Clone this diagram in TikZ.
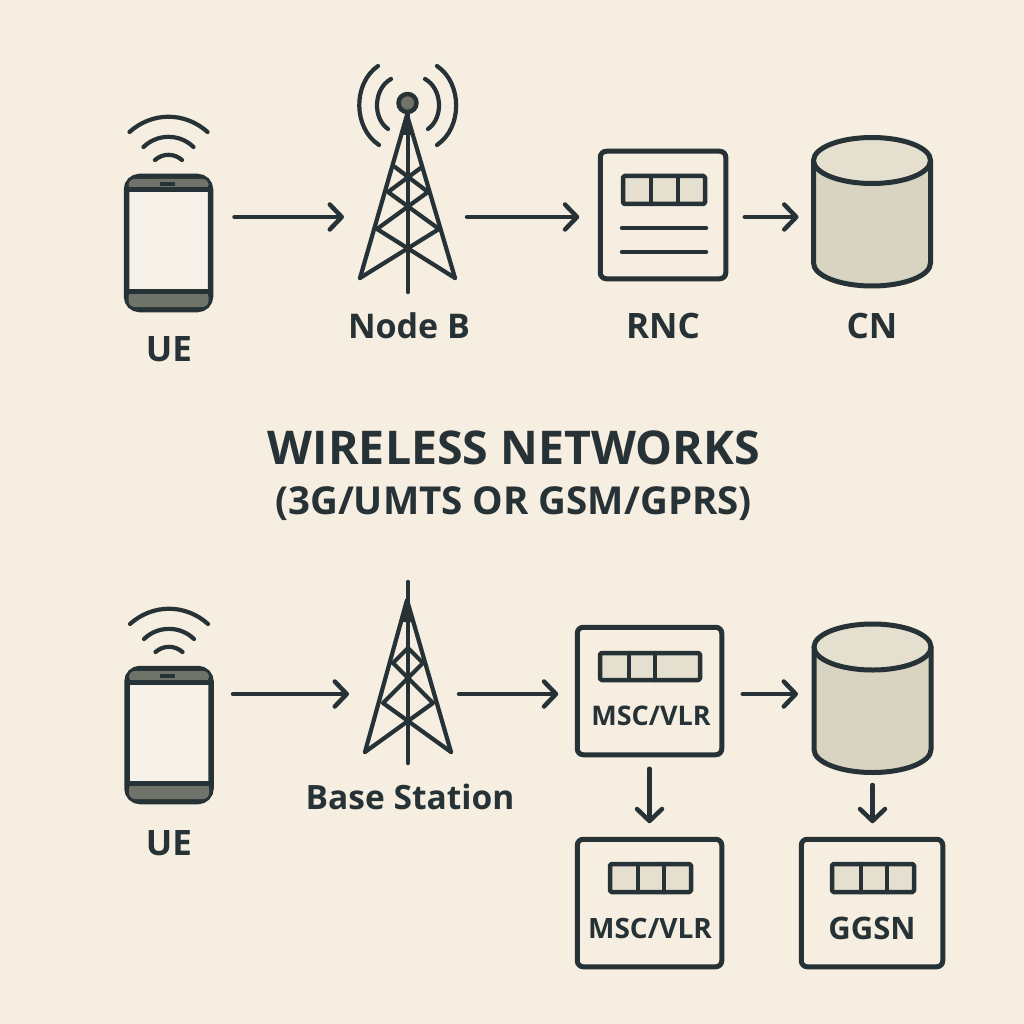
\documentclass[tikz,border=0pt]{standalone}
\usepackage{fontspec}
\setmainfont{Open Sans}[UprightFont=* Bold]
\usetikzlibrary{arrows.meta}
\definecolor{paper}{HTML}{F5EEE1}
\definecolor{ink}{HTML}{263235}
\definecolor{screen}{HTML}{F7F2E9}
\definecolor{band}{HTML}{70736A}
\definecolor{cellfill}{HTML}{E5DFCF}
\definecolor{bodyfill}{HTML}{D9D4C2}
\tikzset{line/.style={draw=ink, line width=4.5pt, line cap=round, -{Straight Barb[length=12pt,width=25pt,line width=4.5pt,round]}}}
\tikzset{strut/.style={draw=ink, line width=4.2pt, line cap=round, line join=round}}
\tikzset{box/.style={draw=ink, line width=5pt, rounded corners=6pt, inner sep=0pt, outer sep=0pt, minimum height=127.5pt}}
\tikzset{phone/.style={draw=ink, fill=screen, line width=5.5pt, rounded corners=13pt, inner sep=0pt, outer sep=0pt, minimum width=84pt, minimum height=133pt}}
\tikzset{mast/.style={inner sep=0pt, outer sep=0pt}}
\tikzset{lab/.style={text=ink, inner sep=0pt, font=\fontsize{35}{35}\selectfont}}
\tikzset{lab box/.style={text=ink, inner sep=0pt, font=\fontsize{27}{27}\selectfont}}
\tikzset{phonebits/.pic={
  \fill[band, rounded corners=6pt] (-40,-53) -- (-40,-64) -- (40,-64) -- (40,-53) -- cycle;
  \fill[band, rounded corners=6pt] (-40,48) -- (-40,64) -- (40,64) -- (40,48) -- cycle;
  \draw[strut, line width=5pt, line cap=butt] (-41,-53) -- (41,-53);
  \draw[strut, line width=5pt, line cap=butt] (-41,48) -- (41,48);
  \draw[strut, line width=3.5pt, line cap=butt] (-9,-59) -- (6,-59);
  \draw[strut] (-39,-111) to[bend left=42] (39,-111);
  \draw[strut] (-25,-96) to[bend left=44] (25,-96);
  \draw[strut] (-13.5,-83) to[bend left=41] (13.5,-83);
}}
\tikzset{drum/.pic={
  \draw[strut, line width=5pt, fill=bodyfill] (-58.5,-51) -- (-58.5,51.5) arc[start angle=180, end angle=360, x radius=58.5pt, y radius=23pt] -- (58.5,-51) -- cycle;
  \draw[strut, line width=5pt, fill=cellfill] (0,-51) ellipse [x radius=58.5pt, y radius=23pt];
}}
% box with three cells
\newcommand{\cellstrip}[6]{
  \fill[cellfill] (#1,#5) rectangle (#4,#6);
  \draw[strut, line width=4.5pt, rounded corners=1.5pt] (#1,#5) rectangle (#4,#6);
  \draw[strut, line width=4.5pt] (#2,#5) -- (#2,#6) (#3,#5) -- (#3,#6);
}
\begin{document}
\begin{tikzpicture}[x=1pt,y=-1pt]
\fill[paper] (0,0) rectangle (1024,1024);

% upper row
\node [phone] (ueA) at (168.5,243) {};
\pic at (ueA) {phonebits};
\node [mast, minimum width=95pt, minimum height=100pt] (nodeB) at (407.5,217) {};
\draw[strut, line width=4.5pt] (408,113) -- (408,292);
\draw[strut] (360,278) -- (407,115) -- (455,278);
\draw[strut] (395,167) -- (428,192) -- (377,229) -- (455,278);
\draw[strut] (422,167) -- (388,192) -- (439,229) -- (360,278);
\fill[ink] (407.5,112) -- (402,135) -- (413,135) -- cycle;
\draw[strut, fill=band, line width=4.5pt] (407.5,103) circle (9);
\draw[strut] (378,66) to[bend right=56] (379,145);
\draw[strut] (391,79) to[bend right=58] (388,129);
\draw[strut] (437,66) to[bend left=56] (437,145);
\draw[strut] (425,79) to[bend left=58] (428,129);
\node [box, minimum width=125.5pt] (rnc) at (663,215) {};
\cellstrip{623}{651}{678}{705}{176}{204}
\draw[strut, line width=4.5pt] (622,228) -- (706,228) (622,252) -- (706,252);
\node [mast, minimum width=117pt, minimum height=148pt] (cnA) at (872,211.5) {};
\pic at (cnA) {drum};

\node [lab] (ueAlab) at (169,349) {UE};
\node [lab, font=\fontsize{34}{34}\selectfont] (nodeBlab) at (409,326) {Node B};
\node [lab] (rnclab) at (663,326) {RNC};
\node [lab] (cnAlab) at (872,326) {CN};

\draw[line, shorten <=24pt, shorten >=16pt] ([yshift=26pt]ueA.east) -- (nodeB.west);
\draw[line, shorten <=12pt, shorten >=21pt] (nodeB.east) -- (nodeB.east -| rnc.west);
\draw[line, shorten <=19pt, shorten >=15pt] ([yshift=-2pt]rnc.east) -- ([yshift=-2pt]rnc.east -| cnA.west);

% title
\node [text=ink, inner sep=0pt, font=\fontsize{46.5}{46.5}\selectfont] (title) at (514,448) {WIRELESS NETWORKS};
\node [text=ink, inner sep=0pt, font=\fontsize{38.5}{38.5}\selectfont] (subtitle) at (513.5,504) {(3G/UMTS OR GSM/GPRS)};

% lower row
\node [phone] (ueB) at (169,735) {};
\pic at (ueB) {phonebits};
\node [mast, minimum width=86pt, minimum height=100pt] (baseSt) at (408,694) {};
\draw[strut, line width=4.5pt] (408,582) -- (408,763);
\draw[strut] (365,752) -- (407,600) -- (451,752);
\draw[strut] (393,663) -- (408,648) -- (423,663);
\draw[strut] (393,663) -- (433,703) -- (365,752);
\draw[strut] (423,663) -- (383,703) -- (451,752);
\fill[ink] (407.5,598) -- (402,622) -- (413,622) -- cycle;
\node [box, minimum width=144.5pt] (mscA) at (649.5,691) {};
\cellstrip{600}{629}{655}{700}{653}{680}
\node [lab box] (mscAlab) at (651,716) {MSC/VLR};
\node [mast, minimum width=117pt, minimum height=148pt] (cnB) at (872.5,698) {};
\pic at (cnB) {drum};
\node [box, minimum width=144.5pt] (mscB) at (649.5,903) {};
\cellstrip{610}{638}{664}{691}{864}{892}
\node [lab box, font=\fontsize{28}{28}\selectfont] (mscBlab) at (650,928) {MSC/VLR};
\node [box, minimum width=141.5pt] (ggsn) at (872,903) {};
\cellstrip{832}{861}{887}{914}{864}{892}
\node [lab box, font=\fontsize{31}{31}\selectfont] (ggsnlab) at (872,928) {GGSN};

\node [lab] (ueBlab) at (169,843) {UE};
\node [lab, font=\fontsize{33.5}{33.5}\selectfont] (baseStlab) at (410,797) {Base Station};

\draw[line, shorten <=22pt, shorten >=16pt] ([yshift=41pt]ueB.east) -- (baseSt.west);
\draw[line, shorten <=8pt, shorten >=19pt] (baseSt.east) -- (baseSt.east -| mscA.west);
\draw[line, shorten <=21pt, shorten >=16pt] ([yshift=-3pt]mscA.east) -- ([yshift=-3pt]mscA.east -| cnB.west);
\draw[line, shorten <=14pt, shorten >=16pt] (mscA.south) -- (mscB.north);
\draw[line, shorten <=13pt, shorten >=16pt] (cnB.south) -- (cnB.south |- ggsn.north);
\end{tikzpicture}
\end{document}
